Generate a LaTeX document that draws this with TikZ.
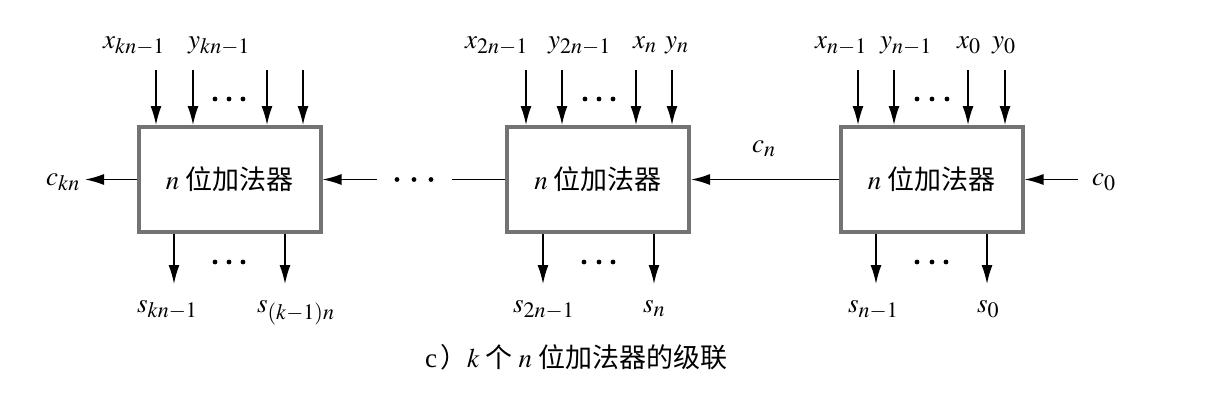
\documentclass[tikz,border=0pt]{standalone}
\usepackage{mathptmx}
\usepackage[no-math]{fontspec}
\setmainfont{Liberation Serif}
\newfontfamily\cjk{Noto Sans CJK SC}
\usetikzlibrary{arrows.meta}
\DeclareMathSizes{27}{27}{22}{17}
\definecolor{boxgray}{gray}{0.45}

\tikzset{
  adder/.style={draw=boxgray, line width=4pt, fill=white, minimum width=182pt,
    minimum height=105pt, inner sep=0pt},
  arr/.style={line width=1.5pt, -{Latex[length=19pt,width=11pt]}},
  lbl/.style={anchor=base west, inner sep=0pt},
}

\begin{document}
\begin{tikzpicture}[x=1pt, y=-1pt, font=\fontsize{27}{30}\selectfont]
     \useasboundingbox (0,0) rectangle (1217,402);

     % the three adders
     \node[adder] (add1) at (229.5,179.5) {$n$\hspace{6pt}{\cjk 位加法器}};
     \node[adder] (add2) at (598,179.5) {$n$\hspace{6pt}{\cjk 位加法器}};
     \node[adder] (add3) at (931.5,179.5) {$n$\hspace{6pt}{\cjk 位加法器}};

     % input labels
     \node[lbl] (x1) at (103,48) {$x_{kn-1}$};
     \node[lbl] (y1) at (188,48) {$y_{kn-1}$};
     \node[lbl] (x2) at (465,48) {$x_{2n-1}$};
     \node[lbl] (y2) at (548,48) {$y_{2n-1}$};
     \node[lbl] (x3) at (633,48) {$x_n$};
     \node[lbl] (y3) at (665,48) {$y_n$};
     \node[lbl] (x4) at (815,48) {$x_{n-1}$};
     \node[lbl] (y4) at (880,48) {$y_{n-1}$};
     \node[lbl] (x5) at (957,48) {$x_0$};
     \node[lbl] (y5) at (992,48) {$y_0$};

     % output labels
     \node[lbl] (s1) at (137,312) {$s_{kn-1}$};
     \node[lbl] (s2) at (257,312) {$s_{(k-1)n}$};
     \node[lbl] (s3) at (513,312) {$s_{2n-1}$};
     \node[lbl] (s4) at (643,312) {$s_n$};
     \node[lbl] (s5) at (848,312) {$s_{n-1}$};
     \node[lbl] (s6) at (977,312) {$s_0$};

     % carries
     \node[lbl, anchor=base east] (ckn) at (80,185) {$c_{kn}$};
     \node[lbl] (cn) at (752,152) {$c_n$};
     \node[lbl] (c0) at (1092,185) {$c_0$};

     \node[lbl] (cap) at (425,367)
       {c\hspace{3pt}{\cjk ）}$k$\hspace{6pt}{\cjk 个}\hspace{6pt}$n$\hspace{6pt}{\cjk 位加法器的级联}};

     % free ends
     \coordinate (i1) at (156,70);
     \coordinate (i2) at (193,70);
     \coordinate (i3) at (267,70);
     \coordinate (i4) at (303,70);
     \coordinate (i5) at (526,70);
     \coordinate (i6) at (562,70);
     \coordinate (i7) at (636,70);
     \coordinate (i8) at (672,70);
     \coordinate (i9) at (858,70);
     \coordinate (i10) at (894,70);
     \coordinate (i11) at (968,70);
     \coordinate (i12) at (1005,70);
     \coordinate (o1) at (174,284);
     \coordinate (o2) at (285,284);
     \coordinate (o3) at (543,284);
     \coordinate (o4) at (654,284);
     \coordinate (o5) at (876,284);
     \coordinate (o6) at (987,284);
     \coordinate (cout) at (85,179.5);
     \coordinate (gapr) at (377,179.5);
     \coordinate (gapl) at (452,179.5);
     \coordinate (cin) at (1078,179.5);

     \draw[arr] (i1) -- (i1 |- add1.north);
     \draw[arr] (i2) -- (i2 |- add1.north);
     \draw[arr] (i3) -- (i3 |- add1.north);
     \draw[arr] (i4) -- (i4 |- add1.north);
     \draw[arr] (i5) -- (i5 |- add2.north);
     \draw[arr] (i6) -- (i6 |- add2.north);
     \draw[arr] (i7) -- (i7 |- add2.north);
     \draw[arr] (i8) -- (i8 |- add2.north);
     \draw[arr] (i9) -- (i9 |- add3.north);
     \draw[arr] (i10) -- (i10 |- add3.north);
     \draw[arr] (i11) -- (i11 |- add3.north);
     \draw[arr] (i12) -- (i12 |- add3.north);

     \draw[arr] (o1 |- add1.south) -- (o1);
     \draw[arr] (o2 |- add1.south) -- (o2);
     \draw[arr] (o3 |- add2.south) -- (o3);
     \draw[arr] (o4 |- add2.south) -- (o4);
     \draw[arr] (o5 |- add3.south) -- (o5);
     \draw[arr] (o6 |- add3.south) -- (o6);

     \draw[arr] (add1.west) -- (cout);
     \draw[arr] (gapr) -- (add1.east);
     \draw[line width=1.5pt] (add2.west) -- (gapl);
     \draw[arr] (add3.west) -- (add2.east);
     \draw[arr] (cin) -- (add3.east);

     % dots
     \foreach \x in {215,229,243} \fill (\x,99) circle (2.4);
     \foreach \x in {585,599,613} \fill (\x,99) circle (2.4);
     \foreach \x in {917,932,947} \fill (\x,99) circle (2.4);
     \foreach \x in {215,229,243} \fill (\x,262) circle (2.4);
     \foreach \x in {584,599,613} \fill (\x,262) circle (2.4);
     \foreach \x in {917,932,946} \fill (\x,262) circle (2.4);
     \foreach \x in {397,414,431} \fill (\x,179.5) circle (2.4);

\end{tikzpicture}
\end{document}
